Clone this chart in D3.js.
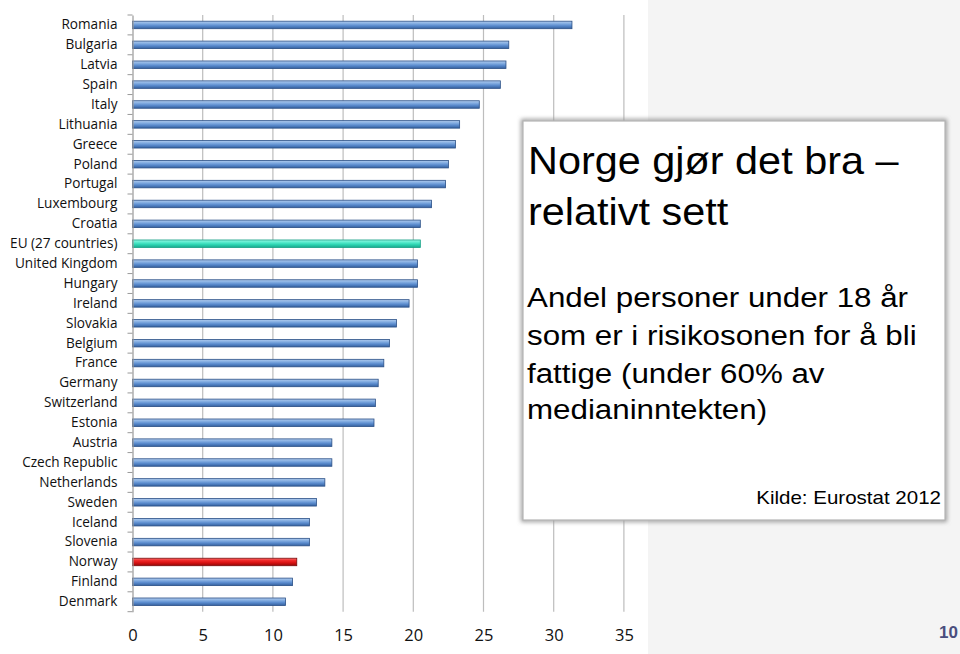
<!DOCTYPE html>
<html><head><meta charset="utf-8">
<script src="https://cdn.jsdelivr.net/npm/d3@7"></script>
<style>
html,body{margin:0;padding:0;background:#fff;}
svg{display:block;}
</style></head>
<body>
<svg id="c" width="960" height="654"></svg>
<script>
const countries = ["Romania","Bulgaria","Latvia","Spain","Italy","Lithuania","Greece","Poland","Portugal","Luxembourg","Croatia","EU (27 countries)","United Kingdom","Hungary","Ireland","Slovakia","Belgium","France","Germany","Switzerland","Estonia","Austria","Czech Republic","Netherlands","Sweden","Iceland","Slovenia","Norway","Finland","Denmark"];
const values = [31.3,26.8,26.6,26.2,24.7,23.3,23.0,22.5,22.3,21.3,20.5,20.5,20.3,20.3,19.7,18.8,18.3,17.9,17.5,17.3,17.2,14.2,14.2,13.7,13.1,12.6,12.6,11.7,11.4,10.9];
const xTicks = [0,5,10,15,20,25,30,35];
const titleLines = ["Norge gjør det bra –","relativt sett"];
const bodyLines = ["Andel personer under 18 år","som er i risikosonen for å bli","fattige (under 60% av","medianinntekten)"];
const sourceText = "Kilde: Eurostat 2012";
const pageNum = "10";

const svg = d3.select("#c");
svg.append("rect").attr("x",648).attr("y",0).attr("width",312).attr("height",654).attr("fill","#f4f4f4");

const defs = svg.append("defs");
function grad(id, stops){
  const g = defs.append("linearGradient").attr("id",id).attr("x1",0).attr("y1",0).attr("x2",0).attr("y2",1);
  stops.forEach(s=>g.append("stop").attr("offset",s[0]).attr("stop-color",s[1]));
}
grad("gBlue",[[0,"#b3cdee"],[0.3,"#86afe2"],[0.6,"#5b8cce"],[1,"#34609e"]]);
grad("gTeal",[[0,"#9af7e4"],[0.3,"#5aecce"],[0.6,"#2fd6b3"],[1,"#18a88c"]]);
grad("gRed",[[0,"#f77070"],[0.3,"#f02a2a"],[0.6,"#d81212"],[1,"#920808"]]);
const filt = defs.append("filter").attr("id","shadow").attr("x","-5%").attr("y","-5%").attr("width","110%").attr("height","110%");
filt.append("feGaussianBlur").attr("stdDeviation",2);

const x = d3.scaleLinear().domain([0,35]).range([132.5,623.9]);
const y = d3.scaleBand().domain(countries).range([15,611.7]).paddingInner(0).paddingOuter(0);

svg.append("g").selectAll("line").data(xTicks.slice(1)).join("line")
  .attr("x1",d=>x(d)).attr("x2",d=>x(d)).attr("y1",15).attr("y2",611.7)
  .attr("stroke","#bdbdbd").attr("stroke-width",1.2);

const bh = 7.5;
svg.append("g").selectAll("rect").data(countries).join("rect")
  .attr("x",x(0)).attr("y",d=>y(d)+y.bandwidth()/2-bh/2)
  .attr("width",(d,i)=>x(values[i])-x(0)).attr("height",bh)
  .attr("fill",d=>d==="Norway"?"url(#gRed)":d.startsWith("EU")?"url(#gTeal)":"url(#gBlue)")
  .attr("stroke",d=>d==="Norway"?"#7a0a0a":d.startsWith("EU")?"#139e84":"#2a4f86")
  .attr("stroke-width",0.8);

const yAxis = d3.axisLeft(y).tickSize(0).tickPadding(15);
const ya = svg.append("g").attr("transform",`translate(${x(0)},0)`).call(yAxis);
ya.select(".domain").attr("stroke","#999").attr("stroke-width",1.2);
ya.selectAll("text").attr("font-family","'Open Sans', sans-serif").attr("font-size",13.6).attr("fill","#111");
svg.append("g").selectAll("line").data(d3.range(countries.length+1)).join("line")
  .attr("x1",x(0)-5).attr("x2",x(0)).attr("y1",i=>15+i*y.step()).attr("y2",i=>15+i*y.step())
  .attr("stroke","#999").attr("stroke-width",1);

const xa = svg.append("g").attr("transform","translate(0,611.7)").call(d3.axisBottom(x).tickValues(xTicks).tickSize(0).tickPadding(18));
xa.select(".domain").remove();
xa.selectAll("text").attr("font-family","'Open Sans', sans-serif").attr("font-size",16.5).attr("fill","#111");

const bx=523, by=121, bw=422, bhh=399;
svg.append("rect").attr("x",bx).attr("y",by).attr("width",bw).attr("height",bhh)
  .attr("fill","none").attr("stroke","#9a9a9a").attr("stroke-width",4).attr("filter","url(#shadow)");
svg.append("rect").attr("x",bx).attr("y",by).attr("width",bw).attr("height",bhh)
  .attr("fill","#fff").attr("stroke","#b5b5b5").attr("stroke-width",1.2);

const tf = "'Liberation Sans', Arial, sans-serif";
const titleY = [174,224.5];
svg.append("g").selectAll("text").data(titleLines).join("text")
  .attr("transform",(d,i)=>`translate(528,${titleY[i]}) scale(1.09,1)`).text(d=>d)
  .attr("font-family",tf).attr("font-size",38).attr("fill","#000");
const bodyY = [307,345,382.7,419.3];
svg.append("g").selectAll("text").data(bodyLines).join("text")
  .attr("transform",(d,i)=>`translate(527,${bodyY[i]}) scale(1.16,1)`).text(d=>d)
  .attr("font-family",tf).attr("font-size",27).attr("fill","#000");
svg.append("text").attr("transform","translate(941,504) scale(1.14,1)").attr("text-anchor","end").text(sourceText)
  .attr("font-family",tf).attr("font-size",18).attr("fill","#000");
svg.append("text").attr("x",958).attr("y",638).attr("text-anchor","end").text(pageNum)
  .attr("font-family",tf).attr("font-size",17).attr("font-weight","bold").attr("fill","#4a4e7e");
</script>
</body></html>
